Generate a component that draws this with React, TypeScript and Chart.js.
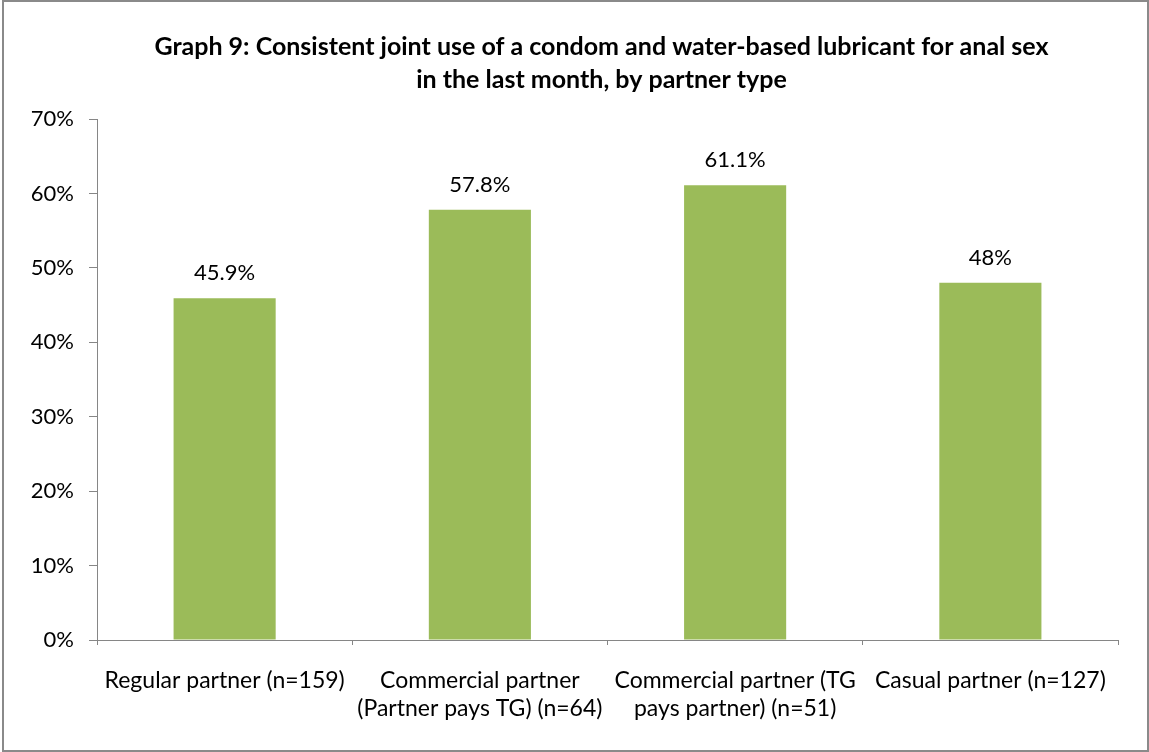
import React, { useEffect, useRef } from "react";
import { Chart, registerables } from "chart.js";

Chart.register(...registerables);

const titleLines = [
  "Graph 9: Consistent joint use of a condom and water-based lubricant for anal sex",
  "in the last month, by partner type",
];
const categories: (string | string[])[] = [
  "Regular partner (n=159)",
  ["Commercial partner", "(Partner pays TG) (n=64)"],
  ["Commercial partner (TG", "pays partner) (n=51)"],
  "Casual partner (n=127)",
];
const values = [45.9, 57.8, 61.1, 48];
const valueLabels = ["45.9%", "57.8%", "61.1%", "48%"];
const yMax = 70;
const yStep = 10;

const FONT = "Lato, 'Open Sans', sans-serif";
const AXIS = "#868686";

export default function App() {
  const ref = useRef<HTMLCanvasElement | null>(null);

  useEffect(() => {
    if (!ref.current) return;
    const titlePlugin = {
      id: "titleDraw",
      afterDraw(chart: any) {
        const ctx = chart.ctx;
        ctx.save();
        ctx.font = `bold 25px ${FONT}`;
        ctx.fillStyle = "#000";
        ctx.textAlign = "center";
        ctx.textBaseline = "middle";
        ctx.fillText(titleLines[0], 597.5, 45);
        ctx.fillText(titleLines[1], 597.5, 78);
        ctx.restore();
      },
    };
    const labelPlugin = {
      id: "valueLabels",
      afterDatasetsDraw(chart: any) {
        const ctx = chart.ctx;
        const meta = chart.getDatasetMeta(0);
        ctx.save();
        ctx.font = `22px ${FONT}`;
        ctx.fillStyle = "#000";
        ctx.textAlign = "center";
        ctx.textBaseline = "middle";
        meta.data.forEach((bar: any, i: number) => {
          ctx.fillText(valueLabels[i], bar.x, bar.y - 25);
        });
        ctx.restore();
      },
    };
    const chart = new Chart(ref.current, {
      type: "bar",
      data: {
        labels: categories,
        datasets: [
          {
            data: values,
            backgroundColor: "#9BBB59",
            borderWidth: 0,
            categoryPercentage: 0.4,
            barPercentage: 1,
          },
        ],
      },
      options: {
        animation: false,
        responsive: false,
        maintainAspectRatio: false,
        layout: { padding: { top: 117, right: 29, bottom: 0, left: 0 } },
        plugins: {
          legend: { display: false },
          title: { display: false },
          tooltip: { enabled: false },
        },
        scales: {
          x: {
            afterFit: (s: any) => {
              s.height = 110;
            },
            border: { color: AXIS, width: 1 },
            grid: {
              display: true,
              drawOnChartArea: false,
              tickLength: 5,
              color: AXIS,
              offset: true,
            },
            ticks: {
              color: "#000",
              padding: 22,
              maxRotation: 0,
              autoSkip: false,
              font: { family: FONT, size: 23, lineHeight: 1.217 },
            },
          },
          y: {
            min: 0,
            max: yMax,
            afterFit: (s: any) => {
              s.width = 93;
            },
            border: { color: AXIS, width: 1 },
            grid: {
              display: true,
              drawOnChartArea: false,
              tickLength: 8,
              color: AXIS,
            },
            ticks: {
              stepSize: yStep,
              color: "#000",
              padding: 15,
              font: { family: FONT, size: 22 },
              callback: (v: any) => `${v}%`,
            },
          },
        },
      },
      plugins: [titlePlugin, labelPlugin],
    });
    return () => chart.destroy();
  }, []);

  return (
    <div
      style={{
        position: "absolute",
        left: 2,
        top: 0,
        width: 1147,
        height: 752,
        border: "2px solid #8a8a8a",
        boxSizing: "border-box",
        background: "#fff",
      }}
    >
      <canvas ref={ref} width={1143} height={748} style={{ display: "block", width: 1143, height: 748 }} />
    </div>
  );
}
